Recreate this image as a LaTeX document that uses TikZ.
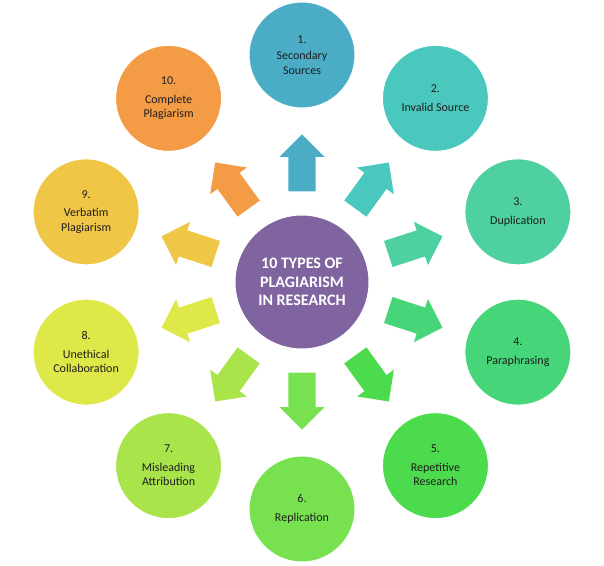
\documentclass[tikz,border=0pt]{standalone}
\usepackage{fontspec}
\setmainfont{Carlito}
\usetikzlibrary{shapes.arrows, calc}
\definecolor{hubpurple}{HTML}{7F64A0}
\definecolor{secblue}{HTML}{4BACC6}
\definecolor{invteal}{HTML}{4BC8BE}
\definecolor{dupgreen}{HTML}{4ED0A0}
\definecolor{pargreen}{HTML}{46D578}
\definecolor{repgreen}{HTML}{4CDB4C}
\definecolor{relime}{HTML}{78E150}
\definecolor{mislime}{HTML}{AAE44B}
\definecolor{unyellow}{HTML}{DEE848}
\definecolor{verbgold}{HTML}{F0C646}
\definecolor{comporange}{HTML}{F49B46}
\definecolor{inkgray}{HTML}{1E1E1E}

\begin{document}
\begin{tikzpicture}[
  hub/.style={circle, fill=hubpurple, draw=white, line width=1pt,
    minimum size=134pt, inner sep=0pt, align=center, text=white,
    font=\fontsize{16}{18.5}\selectfont\bfseries},
  kind/.style={circle, fill=#1, draw=white, line width=1pt,
    minimum size=106pt, inner sep=0pt, align=center, text=inkgray,
    font=\fontsize{12}{14.5}\selectfont},
  push/.style={single arrow, fill=#1, draw=none,
    inner xsep=0pt, inner ysep=13.5pt, minimum height=57pt,
    single arrow head extend=9pt, single arrow head indent=0pt}
]
  \useasboundingbox (-302pt,-283pt) rectangle (302pt,282pt);
  \node[hub] (hub) {10 TYPES OF\\PLAGIARISM\\IN RESEARCH};

  % the ten kinds, every 36 degrees
  \node[kind=secblue]    (t1)  at (90:227pt)  {1.\\[2pt]Secondary\\Sources};
  \node[kind=invteal]    (t2)  at (54:227pt)  {2.\\[4pt]Invalid Source};
  \node[kind=dupgreen]   (t3)  at (18:227pt)  {3.\\[4pt]Duplication};
  \node[kind=pargreen]   (t4)  at (-18:227pt) {4.\\[4pt]Paraphrasing};
  \node[kind=repgreen]   (t5)  at (-54:227pt) {5.\\[4pt]Repetitive\\Research};
  \node[kind=relime]     (t6)  at (-90:227pt) {6.\\[4pt]Replication};
  \node[kind=mislime]    (t7)  at (-126:227pt) {7.\\[4pt]Misleading\\Attribution};
  \node[kind=unyellow]   (t8)  at (-162:227pt) {8.\\[4pt]Unethical\\Collaboration};
  \node[kind=verbgold]   (t9)  at (162:227pt) {9.\\[4pt]Verbatim\\Plagiarism};
  \node[kind=comporange] (t10) at (126:227pt) {10.\\[4pt]Complete\\Plagiarism};

  % block arrows from the hub out
  \node[push=secblue, rotate=90]     (a1)  at ($(hub)!0.495!(t1)$)  {};
  \node[push=invteal, rotate=54]     (a2)  at ($(hub)!0.495!(t2)$)  {};
  \node[push=dupgreen, rotate=18]    (a3)  at ($(hub)!0.495!(t3)$)  {};
  \node[push=pargreen, rotate=-18]   (a4)  at ($(hub)!0.495!(t4)$)  {};
  \node[push=repgreen, rotate=-54]   (a5)  at ($(hub)!0.495!(t5)$)  {};
  \node[push=relime, rotate=-90]     (a6)  at ($(hub)!0.495!(t6)$)  {};
  \node[push=mislime, rotate=-126]   (a7)  at ($(hub)!0.495!(t7)$)  {};
  \node[push=unyellow, rotate=-162]  (a8)  at ($(hub)!0.495!(t8)$)  {};
  \node[push=verbgold, rotate=162]   (a9)  at ($(hub)!0.495!(t9)$)  {};
  \node[push=comporange, rotate=126] (a10) at ($(hub)!0.495!(t10)$) {};
\end{tikzpicture}
\end{document}
